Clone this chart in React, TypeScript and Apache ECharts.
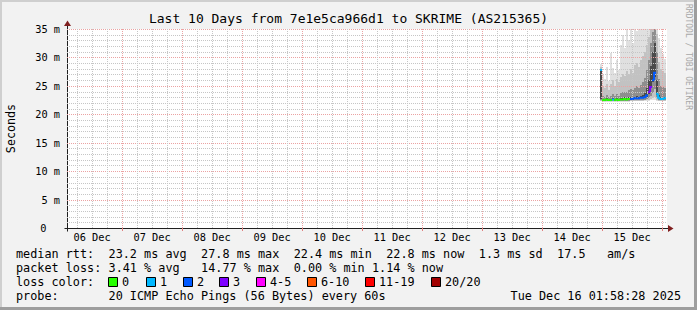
import React, { useEffect, useRef } from "react";
import * as echarts from "echarts";

const FONT = '"DejaVu Sans Mono", "Liberation Mono", monospace';

const titleText = "Last 10 Days from 7e1e5ca966d1 to SKRIME (AS215365)";
const yAxisTitle = "Seconds";
const watermark = "RRDTOOL / TOBI OETIKER";

// x values are hours since 06 Dec 2025 00:00
const axisStartHour = 1 + 58 / 60 + 28 / 3600; // 06 Dec 01:58:28
const axisSpanHours = 240; // 10 days
const dayLabels = ["06 Dec", "07 Dec", "08 Dec", "09 Dec", "10 Dec", "11 Dec", "12 Dec", "13 Dec", "14 Dec", "15 Dec"];
const dayLabelHours = [12, 36, 60, 84, 108, 132, 156, 180, 204, 228];
const dayBoundaryHours = [24, 48, 72, 96, 120, 144, 168, 192, 216, 240];
const gridStepHours = 6;
const yMax = 35; // ms
const yMajorStep = 5;

// samples (one every 48 minutes), first one at 14 Dec 23:12
const sampleStartHour = 215.2;
const sampleStepHours = 0.8;
const medianRtt = [27.8, 22.5, 22.5, 22.6, 22.5, 22.5, 22.6, 22.5, 22.6, 22.5, 22.6, 22.6, 22.7, 22.6, 22.7, 22.7, 22.7, 22.8, 22.8, 22.8, 22.9, 22.9, 23.0, 23.3, 23.9, 24.8, 26.0, 27.3, 23.6, 22.9, 22.7, 22.7, 22.8];
const lostPings = [1, 0, 0, 0, 0, 0, 1, 0, 0, 0, 0, 0, 0, 0, 0, 2, 2, 2, 2, 2, 2, 2, 2, 2, 3, 3, 2, 2, 1, 1, 1, 1, 1];
const pingMin = [22.3, 22.2, 22.2, 22.2, 22.2, 22.2, 22.2, 22.2, 22.2, 22.2, 22.2, 22.2, 22.2, 22.2, 22.2, 22.3, 22.3, 22.3, 22.3, 22.3, 22.3, 22.3, 22.3, 22.4, 22.4, 22.5, 22.5, 22.6, 22.4, 22.3, 22.3, 22.3, 22.3];
const pingQ10 = [22.4, 22.3, 22.3, 22.3, 22.3, 22.3, 22.3, 22.3, 22.3, 22.3, 22.3, 22.3, 22.3, 22.3, 22.3, 22.4, 22.4, 22.4, 22.4, 22.4, 22.4, 22.4, 22.5, 22.5, 22.6, 22.7, 22.9, 23.1, 22.6, 22.4, 22.4, 22.4, 22.4];
const pingQ25 = [22.6, 22.4, 22.4, 22.4, 22.4, 22.4, 22.4, 22.4, 22.4, 22.4, 22.4, 22.4, 22.4, 22.4, 22.4, 22.5, 22.5, 22.5, 22.5, 22.5, 22.6, 22.6, 22.6, 22.7, 22.9, 23.2, 23.8, 24.4, 23.0, 22.6, 22.5, 22.5, 22.5];
const pingQ40 = [22.7, 22.5, 22.5, 22.5, 22.5, 22.5, 22.5, 22.5, 22.5, 22.5, 22.5, 22.5, 22.6, 22.5, 22.6, 22.6, 22.6, 22.7, 22.7, 22.7, 22.8, 22.8, 22.9, 23.1, 23.6, 24.6, 25.6, 26.6, 23.4, 22.8, 22.6, 22.6, 22.7];
const pingQ60 = [27.6, 22.7, 22.6, 22.8, 22.6, 22.7, 22.8, 22.7, 22.8, 22.7, 22.8, 22.9, 23.0, 22.9, 23.0, 23.0, 23.0, 23.1, 23.2, 23.1, 23.3, 23.4, 23.7, 24.6, 26.0, 28.5, 31.0, 32.5, 26.0, 23.4, 23.0, 23.0, 23.0];
const pingQ75 = [27.9, 23.2, 23.0, 23.4, 23.0, 23.2, 23.5, 23.2, 23.6, 23.3, 23.7, 23.9, 24.0, 24.0, 24.2, 24.4, 24.2, 24.6, 24.9, 24.7, 25.1, 25.6, 26.4, 27.8, 29.5, 32.5, 34.5, 35.5, 31.0, 26.2, 25.0, 24.8, 24.6];
const pingQ90 = [28.3, 25.0, 24.6, 25.3, 24.2, 25.4, 26.0, 24.9, 26.2, 25.6, 26.6, 27.1, 26.8, 27.6, 27.0, 28.0, 27.3, 28.6, 29.0, 28.3, 29.6, 30.2, 31.0, 32.2, 33.6, 35.6, 36.0, 36.0, 34.2, 29.2, 28.0, 27.6, 27.2];
const pingMax = [28.8, 27.0, 26.2, 28.4, 25.8, 30.8, 28.2, 27.2, 29.6, 27.8, 32.2, 34.0, 31.6, 36.0, 33.0, 36.0, 32.6, 36.0, 34.6, 36.0, 36.0, 36.0, 36.0, 36.0, 36.0, 36.0, 36.0, 36.0, 36.0, 33.4, 31.6, 30.6, 29.8];

const lossLabels = ["0", "1", "2", "3", "4-5", "6-10", "11-19", "20/20"];
const lossColors = ["#26ff00", "#00b8ff", "#0059ff", "#7e00ff", "#ff00ff", "#ff5500", "#ff0000", "#a10000"];

const legendMedian = ["median rtt:", "23.2 ms avg", "27.8 ms max", "22.4 ms min", "22.8 ms now", "1.3 ms sd", "17.5", "am/s"];
const legendLoss = ["packet loss:", "3.41 % avg", "14.77 % max", "0.00 % min", "1.14 % now"];
const legendLossColor = "loss color:";
const legendProbe = ["probe:", "20 ICMP Echo Pings (56 Bytes) every 60s"];
const timestamp = "Tue Dec 16 01:58:28 2025";

const lossBucket = (n: number) =>
  n === 0 ? 0 : n === 1 ? 1 : n === 2 ? 2 : n === 3 ? 3 : n <= 5 ? 4 : n <= 10 ? 5 : n < 20 ? 6 : 7;

const MINOR = "#c6c6c6";
const MAJOR = "#eba3a3";
const AXIS = "#1f1f1f";
const ARROW = "#801f1f";

export default function App() {
  const ref = useRef<HTMLDivElement>(null);

  useEffect(() => {
    document.body.style.margin = "0";
    if (!ref.current) return;
    const chart = echarts.init(ref.current, null, { renderer: "svg" });
    const axisEndHour = axisStartHour + axisSpanHours;

    const smokeData = medianRtt.map((_, i) => [
      sampleStartHour + i * sampleStepHours,
      pingMin[i], pingQ10[i], pingQ25[i], pingQ40[i], pingQ60[i], pingQ75[i], pingQ90[i], pingMax[i],
    ]);
    // [time, median, previous median (or same when loss bucket changes), loss bucket]
    const medianData = medianRtt.map((m, i) => {
      const b = lossBucket(lostPings[i]);
      const samePrev = i > 0 && lossBucket(lostPings[i - 1]) === b;
      return [sampleStartHour + i * sampleStepHours, m, samePrev ? medianRtt[i - 1] : m, b];
    });

    const gridData: number[][] = [];
    for (let v = 1; v <= yMax; v++) gridData.push([0, v, v % yMajorStep === 0 ? 1 : 0]);
    for (let h = gridStepHours; h <= axisEndHour; h += gridStepHours) {
      if (h > axisStartHour) gridData.push([1, h, dayBoundaryHours.includes(h) ? 1 : 0]);
    }

    const bandColors = ["#e0e0e0", "#c2c2c2", "#8e8e8e", "#4a4a4a"];

    const option: any = {
      animation: false,
      backgroundColor: "#f2f2f2",
      textStyle: { fontFamily: FONT },
      title: {
        text: titleText,
        left: "center",
        top: 12,
        padding: 0,
        textStyle: { fontFamily: FONT, fontSize: 13, fontWeight: "normal", color: "#000" },
      },
      grid: { left: 67, right: 30, top: 29, bottom: 82, show: true, backgroundColor: "#ffffff", borderWidth: 0 },
      xAxis: {
        type: "value",
        min: axisStartHour,
        max: axisEndHour,
        axisLine: { show: true, lineStyle: { color: AXIS, width: 1 } },
        axisTick: { show: true, customValues: dayBoundaryHours, length: 3, lineStyle: { color: "#e08080" } },
        axisLabel: {
          customValues: dayLabelHours,
          formatter: (v: number) => {
            const i = dayLabelHours.findIndex((h) => Math.abs(h - v) < 1e-6);
            return i >= 0 ? dayLabels[i] : "";
          },
          fontFamily: FONT,
          fontSize: 10.3,
          color: "#000",
          margin: 4,
        },
        splitLine: { show: false },
      },
      yAxis: {
        type: "value",
        min: 0,
        max: yMax,
        interval: yMajorStep,
        axisLine: { show: true, lineStyle: { color: AXIS, width: 1 } },
        axisTick: { show: false },
        splitLine: { show: false },
        axisLabel: {
          formatter: (v: number) => (v === 0 ? "{z|0}" : v + " m"),
          rich: { z: { padding: [0, 13.5, 0, 0], fontFamily: FONT, fontSize: 10.3, color: "#000" } },
          fontFamily: FONT,
          fontSize: 10.3,
          color: "#000",
          margin: 7,
        },
      },
      series: [
        {
          type: "custom",
          name: "smoke",
          z: 2,
          data: smokeData,
          encode: { x: 0, y: 1 },
          renderItem: (params: any, api: any) => {
            const t = api.value(0);
            const pairs = [[1, 8], [2, 7], [3, 6], [4, 5]];
            const children = pairs.map(([lo, hi], j) => {
              const a = api.coord([t, Math.min(api.value(lo), yMax)]);
              const b = api.coord([t + sampleStepHours, Math.min(api.value(hi), yMax)]);
              const x0 = Math.round(a[0]);
              const x1 = Math.round(b[0]);
              const y0 = Math.round(a[1]);
              const y1 = Math.round(b[1]);
              return {
                type: "rect",
                shape: { x: x0, y: y1, width: x1 - x0, height: Math.max(0, y0 - y1) },
                style: { fill: bandColors[j] },
              };
            });
            return { type: "group", children };
          },
        },
        {
          type: "custom",
          name: "grid",
          z: 3,
          silent: true,
          data: gridData,
          renderItem: (params: any, api: any) => {
            const kind = api.value(0);
            const v = api.value(1);
            const major = api.value(2);
            let shape;
            if (kind === 0) {
              const a = api.coord([axisStartHour, v]);
              const b = api.coord([axisEndHour, v]);
              const y = Math.round(a[1]) + 0.5;
              shape = { x1: a[0], y1: y, x2: b[0], y2: y };
            } else {
              const a = api.coord([v, 0]);
              const b = api.coord([v, yMax]);
              const x = Math.round(a[0]) + 0.5;
              shape = { x1: x, y1: a[1], x2: x, y2: b[1] };
            }
            return {
              type: "line",
              shape,
              style: { stroke: major ? MAJOR : MINOR, lineWidth: 1, lineDash: [1, 1], fill: "none" },
            };
          },
        },
        {
          type: "custom",
          name: "median rtt",
          z: 4,
          data: medianData,
          encode: { x: 0, y: 1 },
          renderItem: (params: any, api: any) => {
            const t = api.value(0);
            const m = api.value(1);
            const prev = api.value(2);
            const c = api.value(3);
            const a = api.coord([t, prev]);
            const b = api.coord([t, m]);
            const e = api.coord([t + sampleStepHours, m]);
            return {
              type: "polyline",
              shape: { points: [a, b, e] },
              style: { stroke: lossColors[c], lineWidth: 2, fill: "none" },
            };
          },
        },
      ],
    };

    chart.setOption(option);

    const o = chart.convertToPixel({ gridIndex: 0 }, [axisStartHour, 0]) as number[];
    const tp = chart.convertToPixel({ gridIndex: 0 }, [axisStartHour, yMax]) as number[];
    const rp = chart.convertToPixel({ gridIndex: 0 }, [axisEndHour, 0]) as number[];
    const ox = Math.round(o[0]) + 0.5;
    const oy = Math.round(o[1]) + 0.5;
    const ty = Math.round(tp[1]);
    const rx = Math.round(rp[0]);

    const W = 697;
    const H = 310;
    const legendFont = 11.8;
    const cw = 7.12;
    const lx = 16;
    const colIdx = [0, 13, 26, 39, 52, 65, 76, 83];
    const colIdx2 = [0, 13, 26, 39, 50];
    const boxX = [108, 146, 183, 219, 256, 307, 365, 431];

    const txt = (text: string, x: number, y: number, extra: any = {}) => ({
      type: "text",
      x,
      y,
      silent: true,
      style: {
        text,
        fill: "#000",
        fontFamily: FONT,
        fontSize: legendFont,
        verticalAlign: "middle",
        align: "left",
        ...extra,
      },
    });

    const elements: any[] = [
      // frame shading
      { type: "rect", shape: { x: 0, y: 0, width: W, height: 2 }, style: { fill: "#cfcfcf" }, silent: true },
      { type: "rect", shape: { x: 0, y: 0, width: 2, height: H }, style: { fill: "#cfcfcf" }, silent: true },
      { type: "rect", shape: { x: 0, y: H - 3, width: W, height: 3 }, style: { fill: "#9e9e9e" }, silent: true },
      { type: "rect", shape: { x: W - 3, y: 0, width: 3, height: H }, style: { fill: "#9e9e9e" }, silent: true },
      // axis extensions and arrows
      { type: "line", shape: { x1: ox - 3, y1: oy, x2: ox, y2: oy }, style: { stroke: AXIS, lineWidth: 1 }, silent: true },
      { type: "line", shape: { x1: ox, y1: oy, x2: ox, y2: oy + 3 }, style: { stroke: AXIS, lineWidth: 1 }, silent: true },
      { type: "line", shape: { x1: ox, y1: ty, x2: ox, y2: ty - 3 }, style: { stroke: AXIS, lineWidth: 1 }, silent: true },
      { type: "line", shape: { x1: rx, y1: oy, x2: rx + 1, y2: oy }, style: { stroke: AXIS, lineWidth: 1 }, silent: true },
      {
        type: "polygon",
        shape: { points: [[ox - 3.5, ty - 3], [ox + 3.5, ty - 3], [ox, ty - 8.5]] },
        style: { fill: ARROW },
        silent: true,
      },
      {
        type: "polygon",
        shape: { points: [[rx + 1, oy - 3.5], [rx + 1, oy + 3.5], [rx + 6.5, oy]] },
        style: { fill: ARROW },
        silent: true,
      },
      // y axis title
      {
        type: "text",
        x: 11,
        y: (o[1] + tp[1]) / 2,
        rotation: Math.PI / 2,
        silent: true,
        style: { text: yAxisTitle, fill: "#000", fontFamily: FONT, fontSize: 11.7, align: "center", verticalAlign: "middle" },
      },
      // watermark
      {
        type: "text",
        x: 688,
        y: 57,
        rotation: -Math.PI / 2,
        silent: true,
        style: { text: watermark, fill: "#a8a8a8", fontFamily: FONT, fontSize: 8, align: "center", verticalAlign: "middle" },
      },
    ];

    legendMedian.forEach((s, i) => elements.push(txt(s, lx + colIdx[i] * cw, 254)));
    legendLoss.forEach((s, i) => elements.push(txt(s, lx + colIdx2[i] * cw, 268)));
    elements.push(txt(legendLossColor, lx, 282));
    lossLabels.forEach((s, i) => {
      elements.push({
        type: "rect",
        shape: { x: boxX[i] + 0.5, y: 277.5, width: 9, height: 9 },
        style: { fill: lossColors[i], stroke: "#000", lineWidth: 1 },
        silent: true,
      });
      elements.push(txt(s, boxX[i] + 14, 282));
    });
    elements.push(txt(legendProbe[0], lx, 296));
    elements.push(txt(legendProbe[1], lx + 13 * cw, 296));
    elements.push(txt(timestamp, 681, 296, { align: "right" }));

    chart.setOption({ graphic: { elements } });

    return () => chart.dispose();
  }, []);

  return <div ref={ref} style={{ width: 697, height: 310 }} />;
}
